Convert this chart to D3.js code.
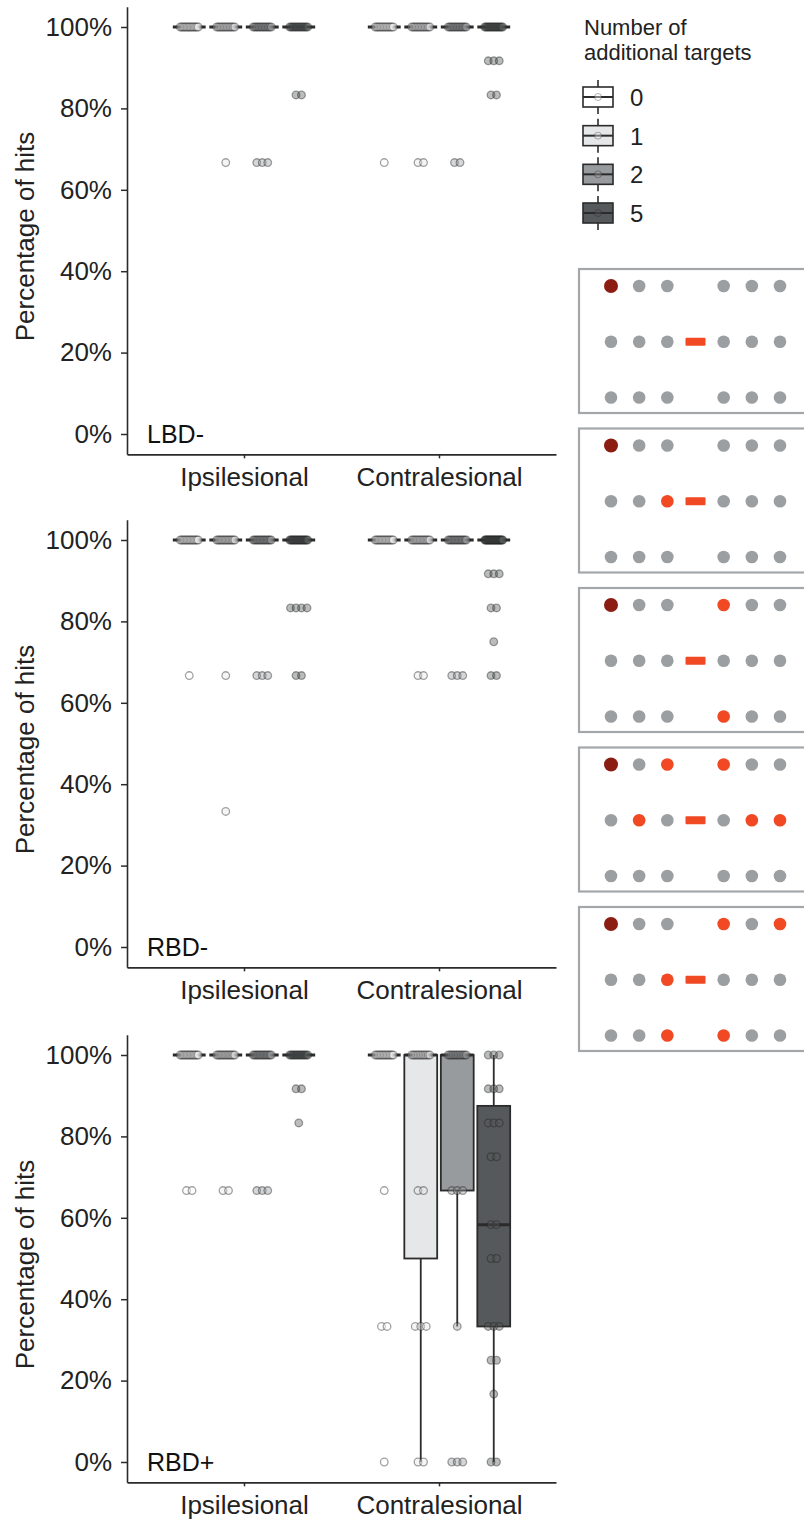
<!DOCTYPE html>
<html>
<head>
<meta charset="utf-8">
<script src="https://cdn.jsdelivr.net/npm/d3@7"></script>
<style>
  body { margin: 0; background: #fff; }
  text { font-family: "Liberation Sans", Arial, sans-serif; }
</style>
</head>
<body>
<svg id="chart" width="804" height="1523"></svg>
<script>
const panels = ["LBD-", "RBD-", "RBD+"];
const sides = ["Ipsilesional", "Contralesional"];
const groups = ["0", "1", "2", "5"];
const groupColors = ["#ffffff", "#e6e7e8", "#989b9e", "#56595b"];
const yTicks = [0, 20, 40, 60, 80, 100];

// percentage of hits per participant, one array per number of additional targets
const lbdIpsi = [
  [100,100,100,100,100,100,100,100,100,100,100,100,100,100],
  [100,100,100,100,100,100,100,100,100,100,100,100,100,66.7],
  [100,100,100,100,100,100,100,100,100,100,100,100,100,66.7,66.7,66.7],
  [100,100,100,100,100,100,100,100,100,100,100,100,100,83.3,83.3]
];
const lbdContra = [
  [100,100,100,100,100,100,100,100,100,100,100,100,100,66.7],
  [100,100,100,100,100,100,100,100,100,100,100,100,100,66.7,66.7],
  [100,100,100,100,100,100,100,100,100,100,100,100,100,66.7,66.7],
  [100,100,100,100,100,100,100,100,100,100,100,100,100,100,100,100,91.7,91.7,91.7,83.3,83.3]
];
const rbdIpsi = [
  [100,100,100,100,100,100,100,100,100,100,100,100,100,100,66.7],
  [100,100,100,100,100,100,100,100,100,100,100,100,100,100,66.7,33.3],
  [100,100,100,100,100,100,100,100,100,100,100,100,100,100,66.7,66.7,66.7],
  [100,100,100,100,100,100,100,100,100,100,100,100,100,100,100,100,100,100,100,83.3,83.3,83.3,83.3,66.7,66.7]
];
const rbdContra = [
  [100,100,100,100,100,100,100,100,100,100,100,100,100,100],
  [100,100,100,100,100,100,100,100,100,100,100,100,100,100,66.7,66.7],
  [100,100,100,100,100,100,100,100,100,100,100,100,100,100,66.7,66.7,66.7],
  [100,100,100,100,100,100,100,100,100,100,100,100,100,100,100,100,100,100,100,100,100,100,100,100,100,91.7,91.7,91.7,83.3,83.3,75,66.7,66.7]
];
const rbdpIpsi = [
  [100,100,100,100,100,100,100,100,100,100,100,100,100,100,66.7,66.7],
  [100,100,100,100,100,100,100,100,100,100,100,100,100,100,66.7,66.7],
  [100,100,100,100,100,100,100,100,100,100,100,100,100,100,66.7,66.7,66.7],
  [100,100,100,100,100,100,100,100,100,100,100,100,100,100,91.7,91.7,83.3]
];
const rbdpContra = [
  [100,100,100,100,100,100,100,100,100,100,100,100,100,66.7,33.3,33.3,0],
  [100,100,100,100,100,100,100,100,100,100,100,100,66.7,66.7,33.3,33.3,33.3,0,0],
  [100,100,100,100,100,100,100,100,100,100,100,100,66.7,66.7,66.7,33.3,0,0,0],
  [100,100,100,91.7,91.7,91.7,83.3,83.3,83.3,75,75,58.3,58.3,50,50,33.3,33.3,33.3,25,25,16.7,0,0]
];
const panelData = [[lbdIpsi, lbdContra], [rbdIpsi, rbdContra], [rbdpIpsi, rbdpContra]];

// stimulus layouts: [row, column] of the extra (red) targets
const stimTargets = [
  [],
  [[1, 2]],
  [[0, 4], [2, 4]],
  [[0, 2], [0, 4], [1, 1], [1, 5], [1, 6]],
  [[0, 4], [0, 6], [1, 2], [2, 2], [2, 4]]
];

const svg = d3.select("#chart");
const ink = "#2b2b2b";
const plotLeft = 127, plotRight = 556;
const panelTop = [27, 540, 1055];   // y of 100%
const pxPerUnit = 4.07;

const x = d3.scalePoint().domain(sides).range([plotLeft, plotRight]).padding(0.6);
const dodge = d3.scaleBand().domain(groups).range([-73, 73]);
const boxW = dodge.bandwidth() * 0.9;

panels.forEach((name, pi) => {
  const t = panelTop[pi];
  const y = d3.scaleLinear().domain([-5, 105]).range([t + 105 * pxPerUnit, t - 5 * pxPerUnit]);
  const g = svg.append("g");

  // axes
  const yAxis = g.append("g")
    .attr("transform", `translate(${plotLeft},0)`)
    .call(d3.axisLeft(y).tickValues(yTicks).tickFormat(d => d + "%").tickSize(6).tickPadding(9).tickSizeOuter(0));
  const xAxis = g.append("g")
    .attr("transform", `translate(0,${y(-5)})`)
    .call(d3.axisBottom(x).tickSize(4).tickPadding(9).tickSizeOuter(0));
  [yAxis, xAxis].forEach(a => {
    a.select(".domain").attr("stroke", ink).attr("stroke-width", 1.6);
    a.selectAll(".tick line").attr("stroke", ink).attr("stroke-width", 1.5);
    a.selectAll(".tick text").attr("fill", "#222").style("font-size", "26px")
      .style("font-family", '"Liberation Sans", Arial, sans-serif');
  });

  g.append("text")
    .attr("transform", `translate(34,${(y(-5) + y(105)) / 2 + 6}) rotate(-90)`)
    .attr("text-anchor", "middle")
    .attr("fill", "#222")
    .style("font-size", "26px")
    .text("Percentage of hits");

  g.append("text")
    .attr("x", 147).attr("y", y(0) + 9)
    .attr("fill", "#111")
    .style("font-size", "25px")
    .text(name);

  sides.forEach((side, si) => {
    panelData[pi][si].forEach((vals, gi) => {
      const cx = x(side) + dodge(groups[gi]) + dodge.bandwidth() / 2;
      const sorted = vals.slice().sort(d3.ascending);
      const q1 = d3.quantileSorted(sorted, 0.25);
      const med = d3.quantileSorted(sorted, 0.5);
      const q3 = d3.quantileSorted(sorted, 0.75);
      const iqr = q3 - q1;
      const lo = d3.min(sorted.filter(v => v >= q1 - 1.5 * iqr));
      const hi = d3.max(sorted.filter(v => v <= q3 + 1.5 * iqr));
      const bg = g.append("g");

      bg.append("line").attr("x1", cx).attr("x2", cx).attr("y1", y(q3)).attr("y2", y(hi))
        .attr("stroke", ink).attr("stroke-width", 1.8);
      bg.append("line").attr("x1", cx).attr("x2", cx).attr("y1", y(q1)).attr("y2", y(lo))
        .attr("stroke", ink).attr("stroke-width", 1.8);
      if (q3 > q1) {
        bg.append("rect")
          .attr("x", cx - boxW / 2).attr("width", boxW)
          .attr("y", y(q3)).attr("height", y(q1) - y(q3))
          .attr("fill", groupColors[gi]).attr("stroke", ink).attr("stroke-width", 1.8);
      }
      bg.append("line")
        .attr("x1", cx - boxW / 2).attr("x2", cx + boxW / 2)
        .attr("y1", y(med)).attr("y2", y(med))
        .attr("stroke", ink).attr("stroke-width", 3);

      // points, spread along x where values tie
      const pts = [];
      d3.group(vals, v => v).forEach((list, v) => {
        const k = list.length;
        const step = k > 1 ? Math.min(5.5, 18 / (k - 1)) : 0;
        list.forEach((_, i) => pts.push({ v, dx: (i - (k - 1) / 2) * step }));
      });
      bg.selectAll("circle").data(pts).join("circle")
        .attr("cx", d => cx + d.dx)
        .attr("cy", d => y(d.v))
        .attr("r", 3.8)
        .attr("fill", groupColors[gi]).attr("fill-opacity", 0.4)
        .attr("stroke", "#222").attr("stroke-opacity", 0.42).attr("stroke-width", 1.3);
    });
  });
});

// legend
const legend = svg.append("g").attr("transform", "translate(584,0)");
legend.append("text").attr("x", 0).attr("y", 35).attr("fill", "#222").style("font-size", "22px").text("Number of");
legend.append("text").attr("x", 0).attr("y", 60).attr("fill", "#222").style("font-size", "22px").text("additional targets");
const keyY = d3.scalePoint().domain(groups).range([97, 213]);
groups.forEach((grp, gi) => {
  const cy = keyY(grp);
  const k = legend.append("g").attr("transform", `translate(14,${cy})`);
  k.append("line").attr("y1", -17).attr("y2", 17).attr("stroke", ink).attr("stroke-width", 1.6);
  k.append("rect").attr("x", -15).attr("y", -10).attr("width", 30).attr("height", 20)
    .attr("fill", groupColors[gi]).attr("stroke", ink).attr("stroke-width", 1.6);
  k.append("line").attr("x1", -15).attr("x2", 15).attr("stroke", ink).attr("stroke-width", 2);
  k.append("circle").attr("r", 3.5).attr("fill", groupColors[gi]).attr("fill-opacity", 0.4)
    .attr("stroke", "#222").attr("stroke-opacity", 0.35);
  legend.append("text").attr("x", 46).attr("y", cy + 9).attr("fill", "#222").style("font-size", "24px").text(grp);
});

// stimulus diagrams
const colX = d3.scaleLinear().domain([0, 6]).range([611, 780]);
const rowY = d3.scaleLinear().domain([0, 2]).range([17, 128.5]);
stimTargets.forEach((targets, si) => {
  const top = 269 + si * 159.5;
  const s = svg.append("g").attr("transform", `translate(0,${top})`);
  s.append("rect").attr("x", 579).attr("y", 0).attr("width", 260).attr("height", 144)
    .attr("fill", "#fff").attr("stroke", "#a3a7a9").attr("stroke-width", 2.2);
  const cells = [];
  d3.range(3).forEach(r => d3.range(7).forEach(c => {
    if (c === 3) return;
    const isRed = targets.some(t => t[0] === r && t[1] === c);
    const isMain = r === 0 && c === 0;
    cells.push({ r, c, fill: isMain ? "#8c1d12" : isRed ? "#f04923" : "#9b9fa2", rad: isMain ? 7 : 6.3 });
  }));
  s.selectAll("circle").data(cells).join("circle")
    .attr("cx", d => colX(d.c)).attr("cy", d => rowY(d.r))
    .attr("r", d => d.rad).attr("fill", d => d.fill);
  s.append("rect").attr("x", colX(3) - 10).attr("y", rowY(1) - 4).attr("width", 20).attr("height", 8)
    .attr("rx", 1).attr("fill", "#f04923");
});
</script>
</body>
</html>
